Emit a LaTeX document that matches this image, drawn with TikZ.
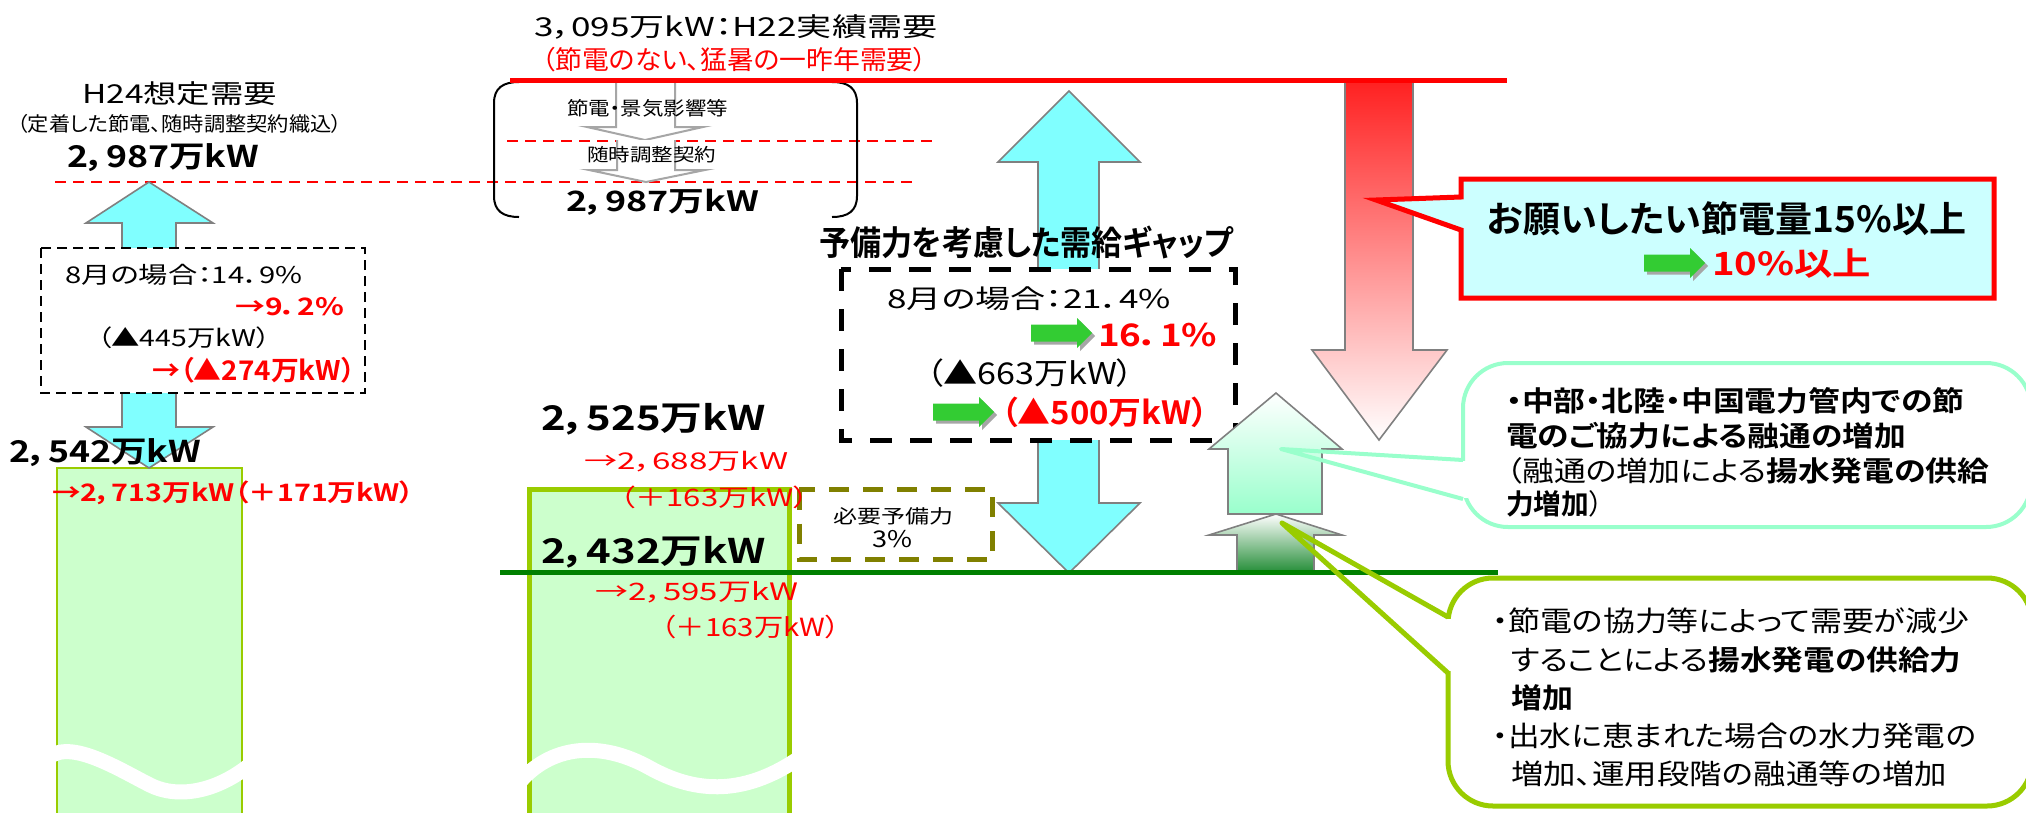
\documentclass[tikz,border=0pt]{standalone}
\usepackage{fontspec}
\usepackage{graphicx}
\setmainfont{Noto Sans CJK JP}[RawFeature={+palt}, BoldFont={Noto Sans CJK JP Bold}]
\definecolor{cyanA}{HTML}{80FFFF}
\definecolor{grayO}{HTML}{808080}
\definecolor{grayL}{HTML}{A6A6A6}
\definecolor{redA}{HTML}{FF0000}
\definecolor{redG}{HTML}{FF2020}
\definecolor{redM}{HTML}{FFA8A8}
\definecolor{greenD}{HTML}{008000}
\definecolor{olive}{HTML}{808000}
\definecolor{limeA}{HTML}{99CC00}
\definecolor{paleG}{HTML}{CCFFCC}
\definecolor{mintA}{HTML}{99FFCC}
\definecolor{calloutF}{HTML}{CCFFFF}
\definecolor{arrG}{HTML}{33CC33}
\definecolor{darkG}{HTML}{1E8A32}
\newcommand\tx[3]{\resizebox{#1pt}{\height}{\fontsize{#2}{#2}\selectfont #3}}
\newcommand\garrow[2]{%
  \fill[grayL] ({#1+3},{#2-5.5}) -- ({#1+49},{#2-5.5}) -- ({#1+49},{#2-12}) -- ({#1+64},{#2+3}) -- ({#1+49},{#2+18}) -- ({#1+49},{#2+11.5}) -- ({#1+3},{#2+11.5}) -- cycle;
  \fill[arrG] (#1,{#2-8.5}) -- ({#1+46},{#2-8.5}) -- ({#1+46},{#2-15}) -- ({#1+61},#2) -- ({#1+46},{#2+15}) -- ({#1+46},{#2+8.5}) -- (#1,{#2+8.5}) -- cycle;}
\begin{document}
\begin{tikzpicture}[x=1pt,y=-1pt,
  txt/.style={inner sep=0pt, anchor=west, text=black},
  redt/.style={txt, text=redA},
  txtc/.style={inner sep=0pt, anchor=center, text=black},
  blockarrow/.style={draw=grayO, line width=1.6pt, line join=miter},
  reddash/.style={draw=redA, line width=2pt, dash pattern=on 11pt off 7pt},
]
\useasboundingbox (0,0) rectangle (2026,812);
\fill[white] (0,0) rectangle (2026,812);

% pale green columns
\draw[limeA, line width=2pt, fill=paleG] (57,468) rectangle (242,830);
\draw[limeA, line width=5pt, fill=paleG] (529.5,489.5) rectangle (789.5,830);
\draw[white, line width=15pt] (48,758) .. controls (70,738) and (120,770) .. (150,785) .. controls (180,800) and (220,790) .. (252,763);
\draw[white, line width=15pt] (518,784) .. controls (550,745) and (600,740) .. (650,768) .. controls (690,790) and (740,800) .. (802,756);

% red dashed lines
\draw[reddash] (55,182) -- (915,182);
\draw[reddash] (507,141) -- (933,141);

% left cyan double arrow
\draw[blockarrow, fill=cyanA] (149,182) -- (213,223) -- (176,223) -- (176,427) -- (213,427) -- (149,468) -- (86,427) -- (122,427) -- (122,223) -- (86,223) -- cycle;
\draw[black, line width=1.8pt, fill=white, dash pattern=on 10pt off 6pt] (41,248) rectangle (365,393);

% bracket and grey hollow arrows
\draw[black, line width=2pt] (519,82) .. controls (503,82) and (494,88) .. (494,103) -- (494,196) .. controls (494,211) and (503,217) .. (519,217);
\draw[black, line width=2pt] (832,82) .. controls (848,82) and (857,88) .. (857,103) -- (857,196) .. controls (857,211) and (848,217) .. (832,217);
\draw[grayL, line width=2pt, fill=white] (616,78) -- (616,127) -- (587,127) -- (645,140) -- (703,127) -- (675,127) -- (675,78);
\draw[grayL, line width=2pt, fill=white] (617,140) -- (617,170) -- (589,170) -- (646,182) -- (705,170) -- (675,170) -- (675,140);

% middle cyan double arrow
\draw[blockarrow, fill=cyanA] (1069,91) -- (1140,162) -- (1099,162) -- (1099,503) -- (1140,503) -- (1069,573) -- (998,503) -- (1038,503) -- (1038,162) -- (998,162) -- cycle;
\draw[black, line width=5pt, fill=white, dash pattern=on 22pt off 18pt] (841,269) rectangle (1235,440);

% olive dashed box
\draw[olive, line width=5pt, fill=white, dash pattern=on 20pt off 14pt] (799,489.5) rectangle (992,559.5);

% red gradient arrow
\draw[blockarrow, top color=redG, middle color=redM, bottom color=white] (1345,80) -- (1345,350) -- (1312,350) -- (1379,440) -- (1447,350) -- (1413,350) -- (1413,80) -- cycle;

% mint and green up arrows
\draw[blockarrow, top color=white, bottom color=mintA] (1276,393) -- (1342,449) -- (1322,449) -- (1322,514) -- (1228,514) -- (1228,449) -- (1209,449) -- cycle;
\draw[blockarrow, top color=white, bottom color=darkG] (1276,514) -- (1342,535) -- (1314,535) -- (1314,574) -- (1237,574) -- (1237,535) -- (1209,535) -- cycle;

% level lines
\draw[greenD, line width=5pt] (500,572) -- (1498,572);
\draw[redA, line width=5pt] (510,80) -- (1507,80);

% red callout
\draw[redA, line width=5pt, fill=calloutF, line join=miter] (1461,197) -- (1461,179) -- (1994,179) -- (1994,298) -- (1461,298) -- (1461,230) -- (1376,200) -- cycle;

% mint callout
\draw[mintA, line width=4pt, fill=white, rounded corners=45pt] (1463,363) rectangle (2031,527);
\fill[white] (1458,461) rectangle (1468,498);
\draw[mintA, line width=4pt, line join=round] (1463,460) -- (1281,449) -- (1463,499);

% lime callout
\draw[limeA, line width=5pt, fill=white, rounded corners=45pt] (1448,578) rectangle (2032,806);
\fill[white] (1443,619) rectangle (1453,671);
\draw[limeA, line width=5pt, line join=round] (1448,617) -- (1282,523) -- (1448,673);

% green block arrows
\garrow{1031}{333}
\garrow{933}{412}
\garrow{1644}{263}

% ---- texts: left column
\node[txt] (t1) at (82,93.5) {\tx{195}{26}{H24想定需要}};
\node[txt] (t2) at (17,124) {\tx{325}{20}{（定着した節電、随時調整契約織込）}};
\node[txt] (t3) at (67,157.5) {\tx{192}{30}{\bfseries 2，987万kW}};
\node[txt] (t4) at (65,275) {\tx{237}{23}{8月の場合：14．9\%}};
\node[redt] (t5) at (235,307) {\tx{109}{24}{\bfseries →9．2\%}};
\node[txt] (t6) at (97,338) {\tx{173}{23}{（▲445万kW）}};
\node[redt] (t7) at (152,370) {\tx{203}{27}{\bfseries →（▲274万kW）}};
\node[txt] (t8) at (9,452.5) {\tx{192}{30}{\bfseries 2，542万kW}};
\node[redt] (t9) at (52,492.5) {\tx{362}{24}{\bfseries →2，713万kW（＋171万kW）}};

% ---- texts: middle
\node[txt] (t10) at (534,26.5) {\tx{403}{26}{3，095万kW：H22実績需要}};
\node[redt] (t11) at (542,60) {\tx{385}{26}{（節電のない、猛暑の一昨年需要）}};
\node[txt] (t12) at (567,108.5) {\tx{161}{19}{節電・景気影響等}};
\node[txt] (t13) at (587,155) {\tx{129}{18}{随時調整契約}};
\node[txt] (t14) at (566,202.5) {\tx{193}{28}{\bfseries 2，987万kW}};
\node[txt] (t15) at (541,419) {\tx{225}{34}{\bfseries 2，525万kW}};
\node[redt] (t16) at (584,462) {\tx{204}{23}{→2，688万kW}};
\node[redt] (t17) at (620,497.5) {\tx{189}{24}{（＋163万kW）}};
\node[txt] (t18) at (541,552.5) {\tx{225}{34}{\bfseries 2，432万kW}};
\node[redt] (t19) at (595,592.5) {\tx{203}{24}{→2，595万kW}};
\node[redt] (t20) at (661,626.5) {\tx{179}{25}{（＋163万kW）}};
\node[txtc] (t21) at (893,516.5) {\tx{120}{19}{必要予備力}};
\node[txtc] (t22) at (892.5,539) {\tx{40}{23}{3\%}};

% ---- texts: supply gap block
\node[txt] (t23) at (819,242) {\tx{414}{34}{\bfseries 予備力を考慮した需給ギャップ}};
\node[txt] (t24) at (887,298.5) {\tx{284}{26}{8月の場合：21．4\%}};
\node[redt] (t25) at (1098,335) {\tx{119}{31}{\bfseries 16．1\%}};
\node[txt] (t26) at (926,373.5) {\tx{208}{30}{（▲663万kW）}};
\node[redt] (t27) at (1001,412.5) {\tx{207}{32}{\bfseries （▲500万kW）}};

% ---- texts: callouts
\node[txt] (t28) at (1487,219) {\tx{479}{36}{\bfseries お願いしたい節電量15\%以上}};
\node[redt] (t29) at (1712,264) {\tx{159}{32}{\bfseries 10\%以上}};

\node[txt] (l1) at (1506,400.5) {\tx{458}{28}{\bfseries ・中部・北陸・中国電力管内での節}};
\node[txt] (l2) at (1506,435.5) {\tx{400}{28}{\bfseries 電のご協力による融通の増加}};
\node[txt] (l3) at (1506,470.5) {\tx{483}{28}{（融通の増加による{\bfseries 揚水発電の供給}}};
\node[txt] (l4) at (1506,503.5) {\tx{97}{28}{{\bfseries 力増加}）}};

\node[txt] (m1) at (1492,620.5) {\tx{477}{28}{・節電の協力等によって需要が減少}};
\node[txt] (m2) at (1511,659.5) {\tx{450}{28}{することによる{\bfseries 揚水発電の供給力}}};
\node[txt] (m3) at (1511,697.5) {\tx{62}{28}{\bfseries 増加}};
\node[txt] (m4) at (1492,735.5) {\tx{484}{28}{・出水に恵まれた場合の水力発電の}};
\node[txt] (m5) at (1511,773.5) {\tx{436}{28}{増加、運用段階の融通等の増加}};
\end{tikzpicture}
\end{document}
